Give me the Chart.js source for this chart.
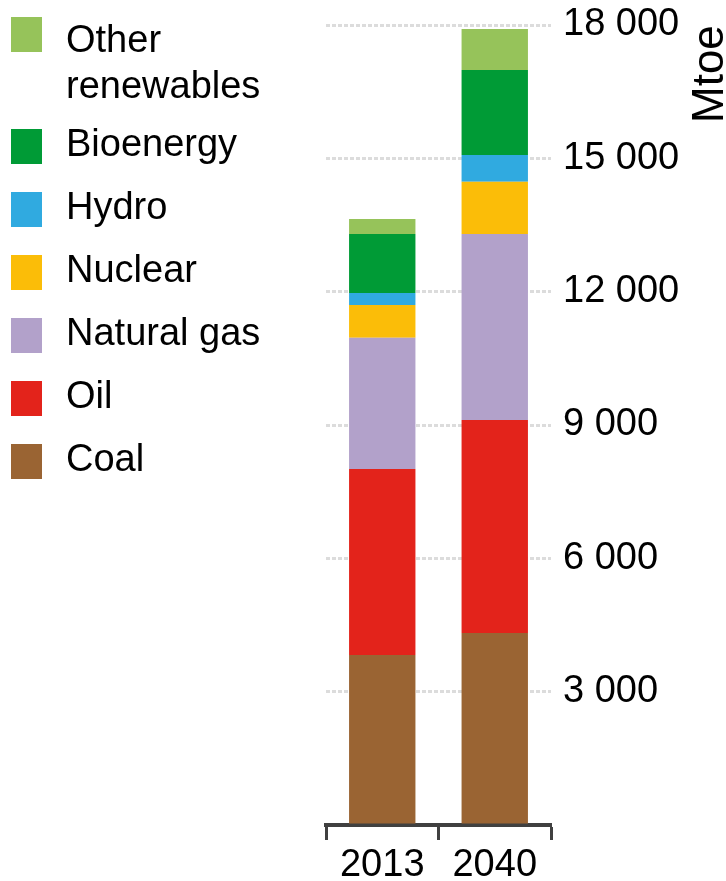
<!DOCTYPE html>
<html>
<head>
<meta charset="utf-8">
<script src="https://cdn.jsdelivr.net/npm/chart.js@4.4.1/dist/chart.umd.min.js"></script>
<style>
  html, body { margin: 0; padding: 0; background: #fff; }
  #wrap { position: relative; width: 726px; height: 881px; overflow: hidden; }
  #chart { position: absolute; left: 0; top: 0; }
  #legend {
    position: absolute; left: 11px; top: 16px;
    font-family: "Liberation Sans", Arial, sans-serif;
    font-size: 38px; line-height: 46px; color: #000;
  }
  .item { display: flex; align-items: flex-start; margin-bottom: 17px; }
  .box { width: 31px; height: 35px; margin-top: 9px; flex: none; }
  .label { margin-left: 24px; width: 230px; }
</style>
</head>
<body>
<div id="wrap">
  <canvas id="chart" width="726" height="881"></canvas>
  <div id="legend"></div>
</div>
<script>
// Data (Mtoe)
const years = ["2013", "2040"];
const coal = [3825, 4320];
const oil = [4185, 4795];
const gas = [2955, 4185];
const nuclear = [735, 1175];
const hydro = [270, 600];
const bioenergy = [1330, 1915];
const otherRenewables = [335, 920];

const yTicks = [0, 3000, 6000, 9000, 12000, 15000, 18000];
const unitTitle = "Mtoe";

// bottom to top
const series = [
  { label: "Coal", data: coal, color: "#9A6433" },
  { label: "Oil", data: oil, color: "#E3231B" },
  { label: "Natural gas", data: gas, color: "#B2A1CA" },
  { label: "Nuclear", data: nuclear, color: "#FBBD08" },
  { label: "Hydro", data: hydro, color: "#30AAE0" },
  { label: "Bioenergy", data: bioenergy, color: "#009B36" },
  { label: "Other renewables", data: otherRenewables, color: "#96C35A" }
];

const fmt = v => String(v).replace(/\B(?=(\d{3})+(?!\d))/g, " ");

Chart.defaults.font.family = '"Liberation Sans", Arial, sans-serif';
Chart.defaults.color = "#000";

// rotated unit label at the top right
const unitLabel = {
  id: "unitLabel",
  afterDraw(chart) {
    const c = chart.ctx;
    c.save();
    c.font = '44px "Liberation Sans", Arial, sans-serif';
    c.fillStyle = "#000";
    c.translate(chart.chartArea.right + 172, chart.chartArea.top + 98);
    c.rotate(-Math.PI / 2);
    c.textBaseline = "alphabetic";
    c.fillText(unitTitle, 0, 0);
    c.restore();
  }
};

const ctx = document.getElementById("chart").getContext("2d");

const chart = new Chart(ctx, {
  type: "bar",
  data: {
    labels: years,
    datasets: series.map(s => ({
      label: s.label,
      data: s.data,
      backgroundColor: s.color,
      borderWidth: 0,
      barPercentage: 0.59,
      categoryPercentage: 1
    }))
  },
  options: {
    responsive: false,
    animation: false,
    layout: { padding: { left: 326, top: 25, right: 0, bottom: 0 } },
    plugins: {
      legend: { display: false },
      tooltip: { enabled: false }
    },
    scales: {
      x: {
        stacked: true,
        offset: true,
        z: 1,
        grid: {
          offset: true,
          drawOnChartArea: false,
          tickLength: 15,
          tickWidth: 3,
          tickColor: "#404040",
          color: "#404040"
        },
        border: { display: true, color: "#404040", width: 4 },
        ticks: { font: { size: 38 }, padding: 3, color: "#000" },
        afterFit: s => { s.height = 56; }
      },
      y: {
        stacked: true,
        position: "right",
        min: 0,
        max: 18000,
        afterBuildTicks: s => { s.ticks = yTicks.map(v => ({ value: v })); },
        ticks: {
          padding: 12,
          font: { size: 38 },
          color: "#000",
          callback: v => (v === 0 ? "" : fmt(v))
        },
        grid: {
          drawTicks: false,
          lineWidth: 3,
          color: c => (c.tick && c.tick.value === 0 ? "rgba(0,0,0,0)" : "#dcdcdc")
        },
        border: { display: false, dash: [4, 2] },
        afterFit: s => {
          s.width = 175;
          s.paddingTop = 0;
          s.paddingBottom = 0;
        }
      }
    }
  },
  plugins: [unitLabel]
});

// HTML legend, top item first
const legend = document.getElementById("legend");
series.slice().reverse().forEach(s => {
  const item = document.createElement("div");
  item.className = "item";
  const box = document.createElement("div");
  box.className = "box";
  box.style.background = s.color;
  const label = document.createElement("div");
  label.className = "label";
  label.textContent = s.label;
  item.appendChild(box);
  item.appendChild(label);
  legend.appendChild(item);
  if (label.offsetHeight > 50) {
    box.style.marginTop = "1px";
    item.style.marginBottom = "12px";
  }
});
</script>
</body>
</html>
